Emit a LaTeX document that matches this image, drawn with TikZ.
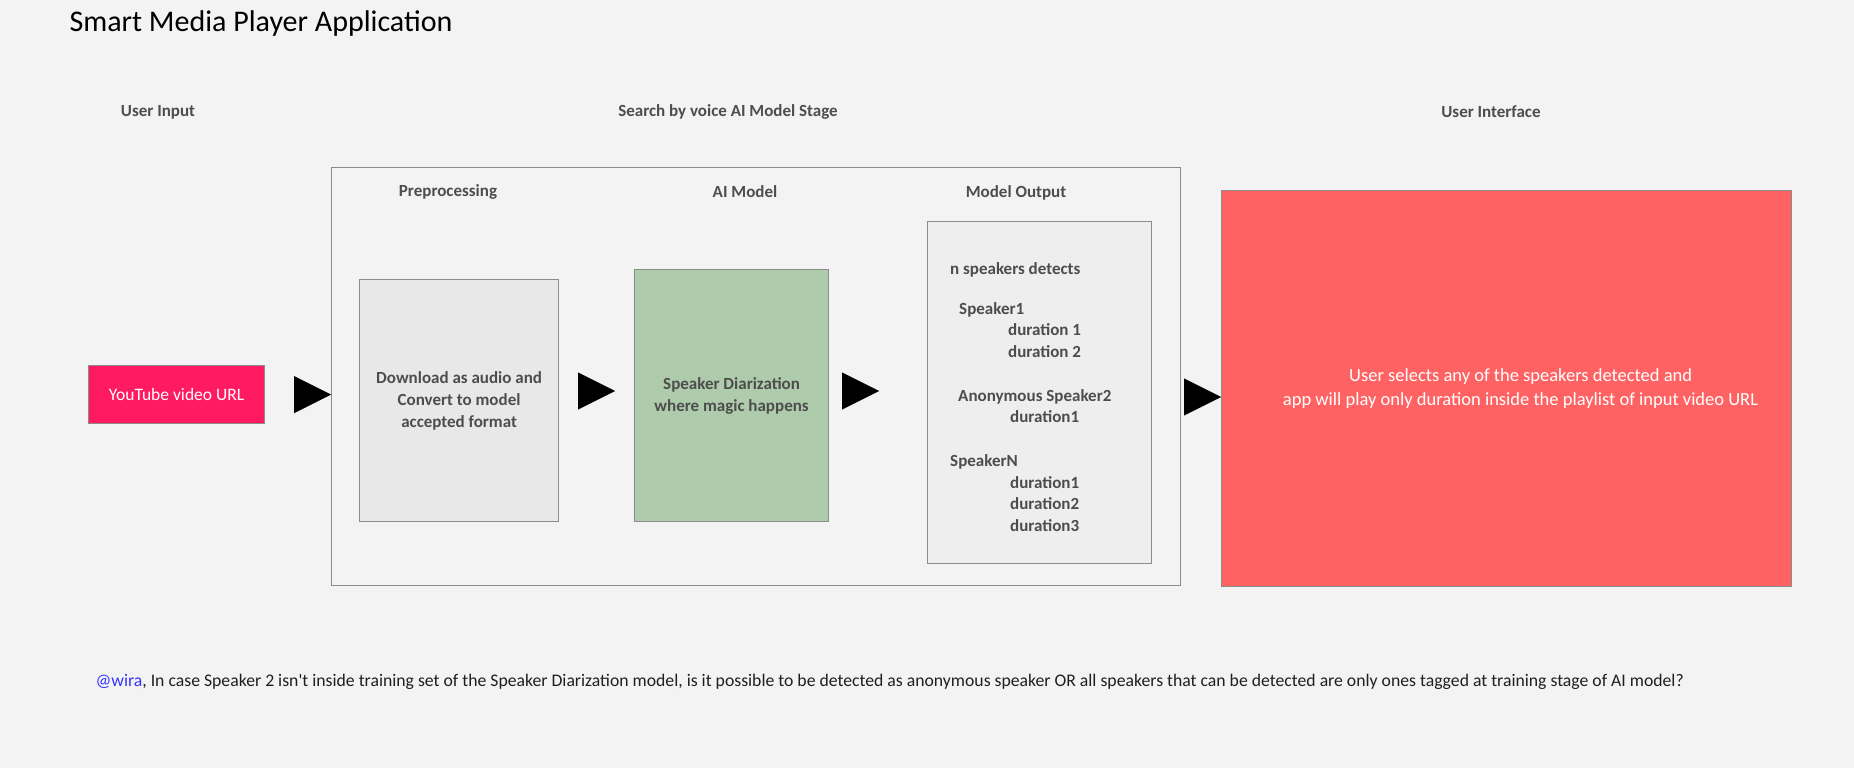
\documentclass[tikz,border=0pt]{standalone}
\usepackage{fontspec}
\setmainfont{Carlito}
\usetikzlibrary{arrows.meta,positioning}

\definecolor{bggray}{HTML}{F3F3F3}
\definecolor{edgegray}{HTML}{8C8C8C}
\definecolor{labelgray}{HTML}{4D4D4D}
\definecolor{prepfill}{HTML}{E8E8E8}
\definecolor{aifill}{HTML}{AECBAC}
\definecolor{outfill}{HTML}{EEEEEE}
\definecolor{uired}{HTML}{FF6262}
\definecolor{ytpink}{HTML}{FF1A62}
\definecolor{mentionblue}{HTML}{3333FF}

\tikzset{
  stagebox/.style={draw=edgegray, line width=1.2pt, inner sep=0pt, anchor=north west},
  headlbl/.style={text=labelgray, font=\fontsize{17}{20}\selectfont\bfseries},
  boxtext/.style={text=labelgray, font=\fontsize{17}{22}\selectfont\bfseries, align=center},
  flowtip/.style={-{Triangle[length=37pt,width=37pt]}, draw=black, fill=black},
}

\begin{document}
\begin{tikzpicture}[x=1pt,y=-1pt]
  \useasboundingbox[fill=bggray] (0,0) rectangle (1854,768);

  \node[anchor=west, font=\fontsize{30}{32}\selectfont] (title) at (66,24)
    {Smart Media Player Application};

  % column heads
  \node[headlbl] (inhead) at (158,112) {User Input};
  \node[headlbl] (stagehead) at (728,112) {Search by voice AI Model Stage};
  \node[headlbl] (uihead) at (1491,112) {User Interface};

  % input
  \node[stagebox, fill=ytpink, minimum width=176pt, minimum height=58pt,
    text=white, font=\fontsize{17.5}{20}\selectfont] (you) at (88,365)
    {YouTube video URL};

  % AI model stage
  \node[stagebox, minimum width=849pt, minimum height=418pt] (stage) at (331,167) {};
  \node[headlbl] (prephead) at (448,192) {Preprocessing};
  \node[headlbl] (aihead) at (745,192) {AI Model};
  \node[headlbl] (outhead) at (1016,193) {Model Output};

  \node[stagebox, boxtext, fill=prepfill, minimum width=199pt, minimum height=242pt]
    (prep) at (359,279) {Download as audio and\\Convert to model\\accepted format};
  \node[stagebox, boxtext, fill=aifill, minimum width=194pt, minimum height=252pt]
    (ai) at (634,269) {Speaker Diarization\\where magic happens};
  \node[stagebox, fill=outfill, minimum width=224pt, minimum height=342pt]
    (out) at (927,221) {};
  \node[boxtext, align=left, anchor=north west, inner sep=0pt,
    font=\fontsize{17}{21.5}\selectfont\bfseries] (outlist) at (950,262)
    {n speakers detects\\[18.5pt]
     \hspace*{9pt}Speaker1\\
     \hspace*{58pt}duration 1\\
     \hspace*{58pt}duration 2\\[22.5pt]
     \hspace*{8pt}Anonymous Speaker2\\
     \hspace*{60pt}duration1\\[22.5pt]
     SpeakerN\\
     \hspace*{60pt}duration1\\
     \hspace*{60pt}duration2\\
     \hspace*{60pt}duration3};

  % user interface
  \node[stagebox, fill=uired, minimum width=570pt, minimum height=396pt,
    text=white, align=center, font=\fontsize{18.5}{24}\selectfont] (ui) at (1221,190)
    {\hspace*{28pt}User selects any of the speakers detected and\\
     \hspace*{28pt}app will play only duration inside the playlist of input video URL};

  % flow arrows
  \coordinate (row) at (0,391);
  \draw[flowtip, shorten <=30pt] (you.east) -- (stage.west |- you.east);
  \draw[flowtip, shorten <=19pt, shorten >=19pt] (prep.east |- row) -- (ai.west |- row);
  \draw[flowtip, shorten <=13pt, shorten >=48pt] (ai.east |- row) -- (out.west |- row);
  \coordinate (uirow) at (0,397);
  \draw[flowtip, shorten <=4pt] (stage.east |- uirow) -- (ui.west |- uirow);

  % question
  \node[anchor=west, text=black!88, font=\fontsize{17.7}{20}\selectfont] (note) at (92,682)
    {{\color{mentionblue}@wira}, In case Speaker 2 isn\textquotesingle t inside training set of the Speaker Diarization model, is it possible to be detected as anonymous speaker OR all speakers that can be detected are only ones tagged at training stage of AI model?};

\end{tikzpicture}
\end{document}
